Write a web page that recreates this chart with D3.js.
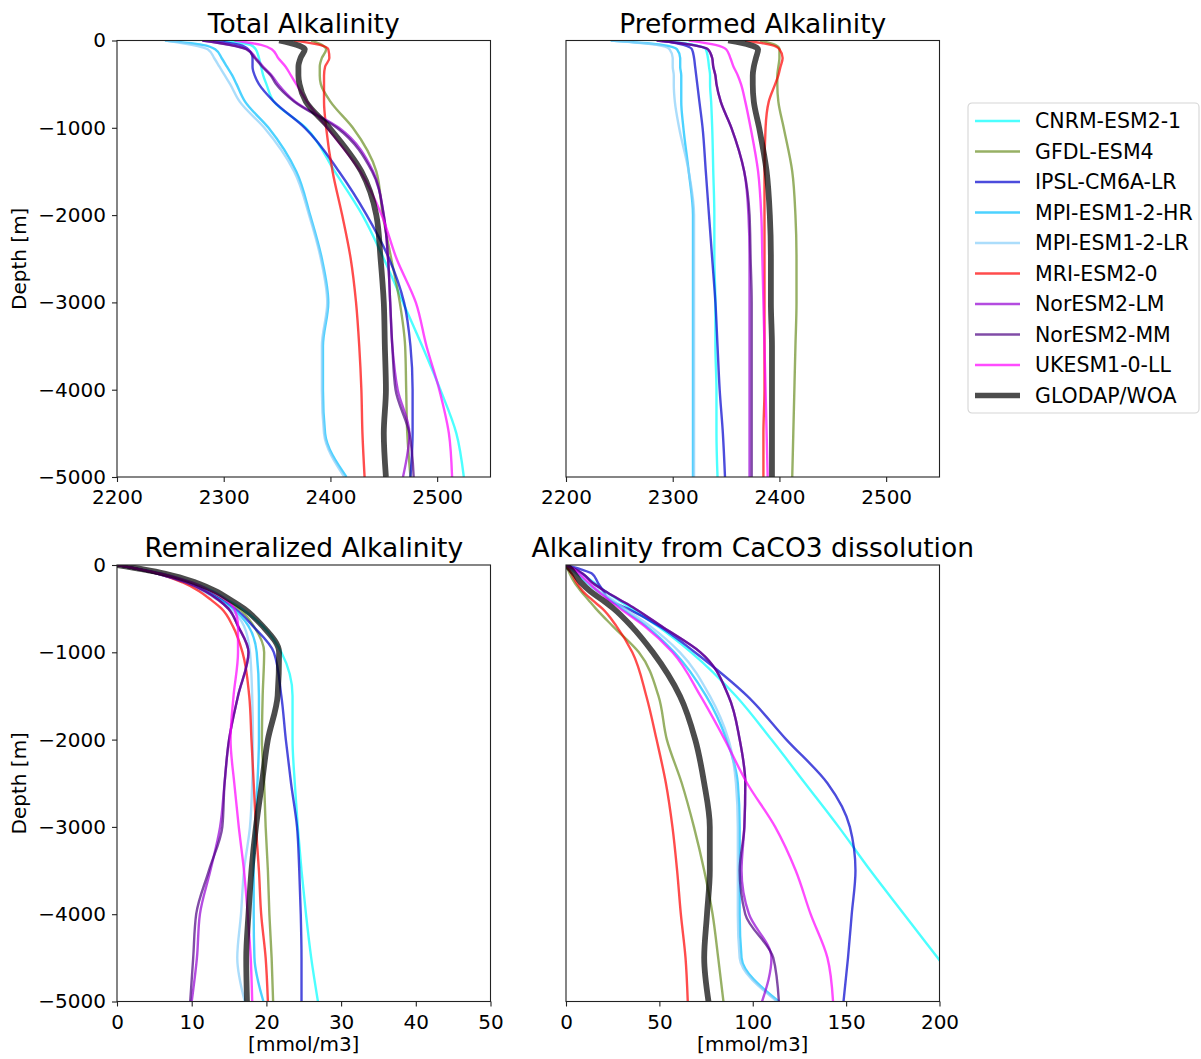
<!DOCTYPE html>
<html>
<head>
<meta charset="utf-8">
<script src="https://cdn.jsdelivr.net/npm/d3@7"></script>
<style>
  body { margin: 0; background: #fff; }
  text { font-family: "DejaVu Sans", sans-serif; fill: #000; }
</style>
</head>
<body>
<div id="chart"></div>
<script>
// depth levels [m], shared by every profile
const depths = [0, 50, 100, 200, 300, 400, 500, 700, 1000, 1500, 2000, 2500, 3000, 3500, 4000, 4500, 5000];

const models = ["CNRM-ESM2-1", "GFDL-ESM4", "IPSL-CM6A-LR", "MPI-ESM1-2-HR", "MPI-ESM1-2-LR",
                "MRI-ESM2-0", "NorESM2-LM", "NorESM2-MM", "UKESM1-0-LL", "GLODAP/WOA"];
const colors = ["cyan", "olivedrab", "mediumblue", "deepskyblue", "lightskyblue",
                "red", "darkviolet", "indigo", "magenta", "black"];

// one row per model, same order as `models`
const totalAlk = [
  [2300, 2325, 2330, 2333, 2335, 2337, 2340, 2347, 2377, 2404, 2430, 2450, 2468, 2486, 2503, 2518, 2525],
  [2382, 2392, 2396, 2392, 2390, 2390, 2391, 2400, 2421, 2443, 2449, 2457, 2465, 2470, 2471, 2472, 2475],
  [2290, 2315, 2323, 2327, 2327, 2329, 2333, 2347, 2376, 2408, 2434, 2455, 2469, 2475, 2477, 2477, 2475],
  [2245, 2280, 2292, 2298, 2303, 2308, 2312, 2320, 2342, 2368, 2381, 2392, 2398, 2393, 2393, 2395, 2415],
  [2245, 2270, 2285, 2291, 2296, 2301, 2306, 2315, 2338, 2366, 2380, 2391, 2397, 2392, 2392, 2394, 2413],
  [2366, 2390, 2398, 2399, 2395, 2394, 2394, 2394, 2396, 2402, 2411, 2419, 2424, 2427, 2429, 2430, 2432],
  [2280, 2306, 2322, 2330, 2337, 2345, 2351, 2367, 2408, 2440, 2450, 2454, 2456, 2458, 2463, 2474, 2468],
  [2280, 2305, 2321, 2329, 2336, 2344, 2349, 2366, 2406, 2439, 2450, 2454, 2456, 2458, 2461, 2474, 2478],
  [2310, 2335, 2345, 2351, 2358, 2363, 2368, 2378, 2397, 2428, 2448, 2462, 2480, 2490, 2502, 2511, 2514],
  [2352, 2368, 2376, 2372, 2370, 2370, 2371, 2377, 2399, 2429, 2443, 2447, 2450, 2451, 2452, 2450, 2452]
];

const preformedAlk = [
  [2290, 2320, 2331, 2333, 2334, 2335, 2335, 2336, 2337, 2338, 2339, 2339, 2340, 2340, 2341, 2341, 2342],
  [2382, 2396, 2400, 2400, 2399, 2398, 2398, 2399, 2404, 2412, 2415, 2416, 2416, 2415, 2414, 2413, 2412],
  [2290, 2310, 2318, 2320, 2321, 2322, 2323, 2325, 2328, 2331, 2334, 2337, 2340, 2342, 2344, 2347, 2349],
  [2242, 2290, 2304, 2307, 2307, 2308, 2308, 2308, 2310, 2315, 2319, 2319, 2319, 2319, 2319, 2319, 2319],
  [2242, 2285, 2297, 2300, 2300, 2301, 2301, 2302, 2306, 2315, 2320, 2320, 2320, 2320, 2320, 2320, 2320],
  [2368, 2392, 2400, 2403, 2401, 2399, 2396, 2390, 2387, 2386, 2386, 2386, 2386, 2386, 2386, 2385, 2385],
  [2285, 2318, 2333, 2337, 2338, 2340, 2341, 2345, 2355, 2367, 2371, 2372, 2372, 2372, 2372, 2372, 2372],
  [2285, 2318, 2333, 2337, 2338, 2340, 2341, 2345, 2355, 2367, 2372, 2373, 2374, 2374, 2374, 2374, 2374],
  [2315, 2340, 2350, 2354, 2357, 2361, 2364, 2368, 2373, 2380, 2383, 2384, 2385, 2386, 2387, 2388, 2389],
  [2352, 2372, 2380, 2378, 2376, 2375, 2375, 2376, 2381, 2388, 2391, 2392, 2392, 2393, 2393, 2393, 2393]
];

const reminAlk = [
  [0, 3.3, 6.0, 10.0, 12.8, 14.8, 16.7, 19.5, 22.0, 23.5, 23.5, 23.8, 24.2, 24.7, 25.3, 26.0, 26.9],
  [0, 3.0, 5.5, 9.5, 12.3, 14.5, 16.3, 18.3, 19.7, 19.5, 19.4, 19.7, 19.9, 20.2, 20.4, 20.7, 20.9],
  [0, 3.0, 5.8, 9.5, 12.0, 14.0, 15.8, 18.2, 21.0, 22.0, 22.6, 23.3, 24.1, 24.4, 24.6, 24.7, 24.7],
  [0, 3.0, 5.5, 9.2, 11.8, 13.8, 15.5, 17.6, 18.7, 19.0, 19.0, 18.8, 18.5, 18.3, 18.3, 18.4, 19.6],
  [0, 3.0, 5.4, 9.0, 11.5, 13.5, 15.2, 17.0, 17.8, 18.1, 18.2, 18.1, 17.8, 17.0, 16.6, 16.1, 17.1],
  [0, 3.0, 5.5, 8.8, 11.0, 12.6, 14.0, 15.5, 16.8, 17.7, 18.0, 18.3, 18.6, 19.0, 19.3, 19.9, 20.2],
  [0, 3.0, 5.5, 9.3, 11.8, 13.6, 14.9, 16.2, 17.6, 16.2, 15.0, 14.4, 13.8, 12.5, 11.1, 10.7, 10.0],
  [0, 3.0, 5.5, 9.3, 11.8, 13.6, 14.9, 16.2, 17.6, 16.2, 15.0, 14.4, 14.1, 12.3, 10.6, 10.2, 9.8],
  [0, 3.2, 6.0, 10.0, 12.6, 14.6, 15.7, 16.2, 16.2, 15.6, 15.2, 15.7, 16.3, 17.0, 17.5, 17.9, 18.1],
  [0, 3.5, 6.5, 10.5, 13.2, 15.2, 17.0, 19.5, 21.7, 21.5, 20.2, 19.4, 18.6, 18.0, 17.6, 17.3, 17.4]
];

const caco3Alk = [
  [0, 5, 8.5, 15, 21, 28, 35, 49, 67, 91, 110, 128, 146, 163, 181, 199, 217],
  [0, 1, 2, 4.5, 8, 12, 16, 25, 39, 49.5, 54, 62, 68.5, 74, 78.5, 81.5, 84.3],
  [0, 8, 14, 17, 20, 23, 33, 50, 69, 97, 118, 140, 152, 155, 153, 151, 148.6],
  [0, 3, 6, 11, 17, 24, 30, 43, 58, 75, 86, 92, 93, 93, 93, 94, 114],
  [0, 3, 6.5, 11.5, 18, 25, 31.5, 45, 61, 77, 87, 91, 92, 92, 92, 93, 113],
  [0, 1.5, 3, 5.5, 9, 14, 19.5, 27, 35.5, 43, 48.5, 53.5, 57, 59.5, 61.5, 64, 65.2],
  [0, 5, 9, 14, 21, 29, 37, 51, 72, 87, 93, 96, 95.5, 94, 98, 110, 105],
  [0, 5, 9, 14, 21, 29, 37, 51, 72, 87, 93, 96, 95.5, 93, 96, 111, 114],
  [0, 4, 7, 12, 17, 23, 29, 42, 57, 72, 85, 97, 112, 123, 131, 140, 143],
  [0, 2.5, 4.5, 8, 13, 19.5, 25.5, 35, 46.5, 61, 69.2, 74, 77, 77, 75.5, 74, 76.3]
];

const depthTicks = [0, -1000, -2000, -3000, -4000, -5000];
const alkTicks = [2200, 2300, 2400, 2500];
const mmolTicks = [0, 10, 20, 30, 40, 50];
const caco3Ticks = [0, 50, 100, 150, 200];

const W = 1201, H = 1059;
const pw = 373.5, ph = 436.5;

var panels = [
  {title: "Total Alkalinity", data: totalAlk, domain: [2200, 2550], ticks: alkTicks, left: 117, top: 40.5, yaxis: true, xlabel: false},
  {title: "Preformed Alkalinity", data: preformedAlk, domain: [2200, 2550], ticks: alkTicks, left: 566, top: 40.5, yaxis: false, xlabel: false},
  {title: "Remineralized Alkalinity", data: reminAlk, domain: [0, 50], ticks: mmolTicks, left: 117, top: 565, yaxis: true, xlabel: true},
  {title: "Alkalinity from CaCO3 dissolution", data: caco3Alk, domain: [0, 200], ticks: caco3Ticks, left: 566, top: 565, yaxis: false, xlabel: true}
];

var svg = d3.select("#chart")
    .append("svg")
    .attr("width", W)
    .attr("height", H);

var y = d3.scaleLinear().domain([-5000, 0]).range([ph, 0]);

panels.forEach(function(p, pi) {
  var x = d3.scaleLinear().domain(p.domain).range([0, pw]);

  var g = svg.append("g")
      .attr("transform", "translate(" + p.left + "," + p.top + ")");

  g.append("clipPath")
      .attr("id", "clip" + pi)
    .append("rect")
      .attr("width", pw)
      .attr("height", ph);

  var line = d3.line()
      .x(function(d) { return x(d[0]); })
      .y(function(d) { return y(-d[1]); })
      .curve(d3.curveMonotoneY);

  var lines = g.append("g").attr("clip-path", "url(#clip" + pi + ")");

  p.data.forEach(function(row, i) {
    var pts = row.map(function(v, k) { return [v, depths[k]]; });
    lines.append("path")
        .datum(pts)
        .attr("d", line)
        .attr("fill", "none")
        .attr("stroke", colors[i])
        .attr("stroke-opacity", 0.7)
        .attr("stroke-width", i == models.length - 1 ? 5.8 : 2.4)
        .attr("stroke-linejoin", "round");
  });

  // frame
  g.append("rect")
      .attr("width", pw)
      .attr("height", ph)
      .attr("fill", "none")
      .attr("stroke", "#222")
      .attr("stroke-width", 1.1);

  var xAxis = g.append("g")
      .attr("transform", "translate(0," + ph + ")")
      .call(d3.axisBottom(x).tickValues(p.ticks).tickSize(5).tickPadding(8).tickFormat(d3.format("d")));
  xAxis.select(".domain").remove();
  xAxis.selectAll("line").attr("stroke", "#222").attr("stroke-width", 1.1);
  xAxis.selectAll("text").attr("font-size", "20px").attr("font-family", "DejaVu Sans");

  if (p.yaxis) {
    var yAxis = g.append("g")
        .call(d3.axisLeft(y).tickValues(depthTicks).tickSize(5).tickPadding(6).tickFormat(d3.format("d")));
    yAxis.select(".domain").remove();
    yAxis.selectAll("line").attr("stroke", "#222").attr("stroke-width", 1.1);
    yAxis.selectAll("text").attr("font-size", "20px").attr("font-family", "DejaVu Sans");

    g.append("text")
        .attr("transform", "translate(" + (26 - p.left) + "," + (ph / 2) + ") rotate(-90)")
        .attr("text-anchor", "middle")
        .attr("font-size", "20px")
        .text("Depth [m]");
  }

  if (p.xlabel) {
    g.append("text")
        .attr("x", pw / 2)
        .attr("y", ph + 49)
        .attr("text-anchor", "middle")
        .attr("font-size", "20px")
        .text("[mmol/m3]");
  }

  g.append("text")
      .attr("x", pw / 2)
      .attr("y", -8)
      .attr("text-anchor", "middle")
      .attr("font-size", "26.5px")
      .text(p.title);
});

// legend
var legend = svg.append("g")
    .attr("transform", "translate(968,103)");

legend.append("rect")
    .attr("width", 231)
    .attr("height", 310)
    .attr("rx", 4)
    .attr("fill", "#fff")
    .attr("stroke", "#d5d5d5")
    .attr("stroke-width", 1.1);

var item = legend.selectAll("g.item")
    .data(models)
    .enter().append("g")
    .attr("class", "item")
    .attr("transform", function(d, i) { return "translate(0," + (18 + i * 30.5) + ")"; });

item.append("line")
    .attr("x1", 7)
    .attr("x2", 52)
    .attr("stroke", function(d, i) { return colors[i]; })
    .attr("stroke-opacity", 0.7)
    .attr("stroke-width", function(d, i) { return i == models.length - 1 ? 5.5 : 2.4; });

item.append("text")
    .attr("x", 67)
    .attr("dy", "0.36em")
    .attr("font-size", "20.5px")
    .text(function(d) { return d; });
</script>
</body>
</html>
